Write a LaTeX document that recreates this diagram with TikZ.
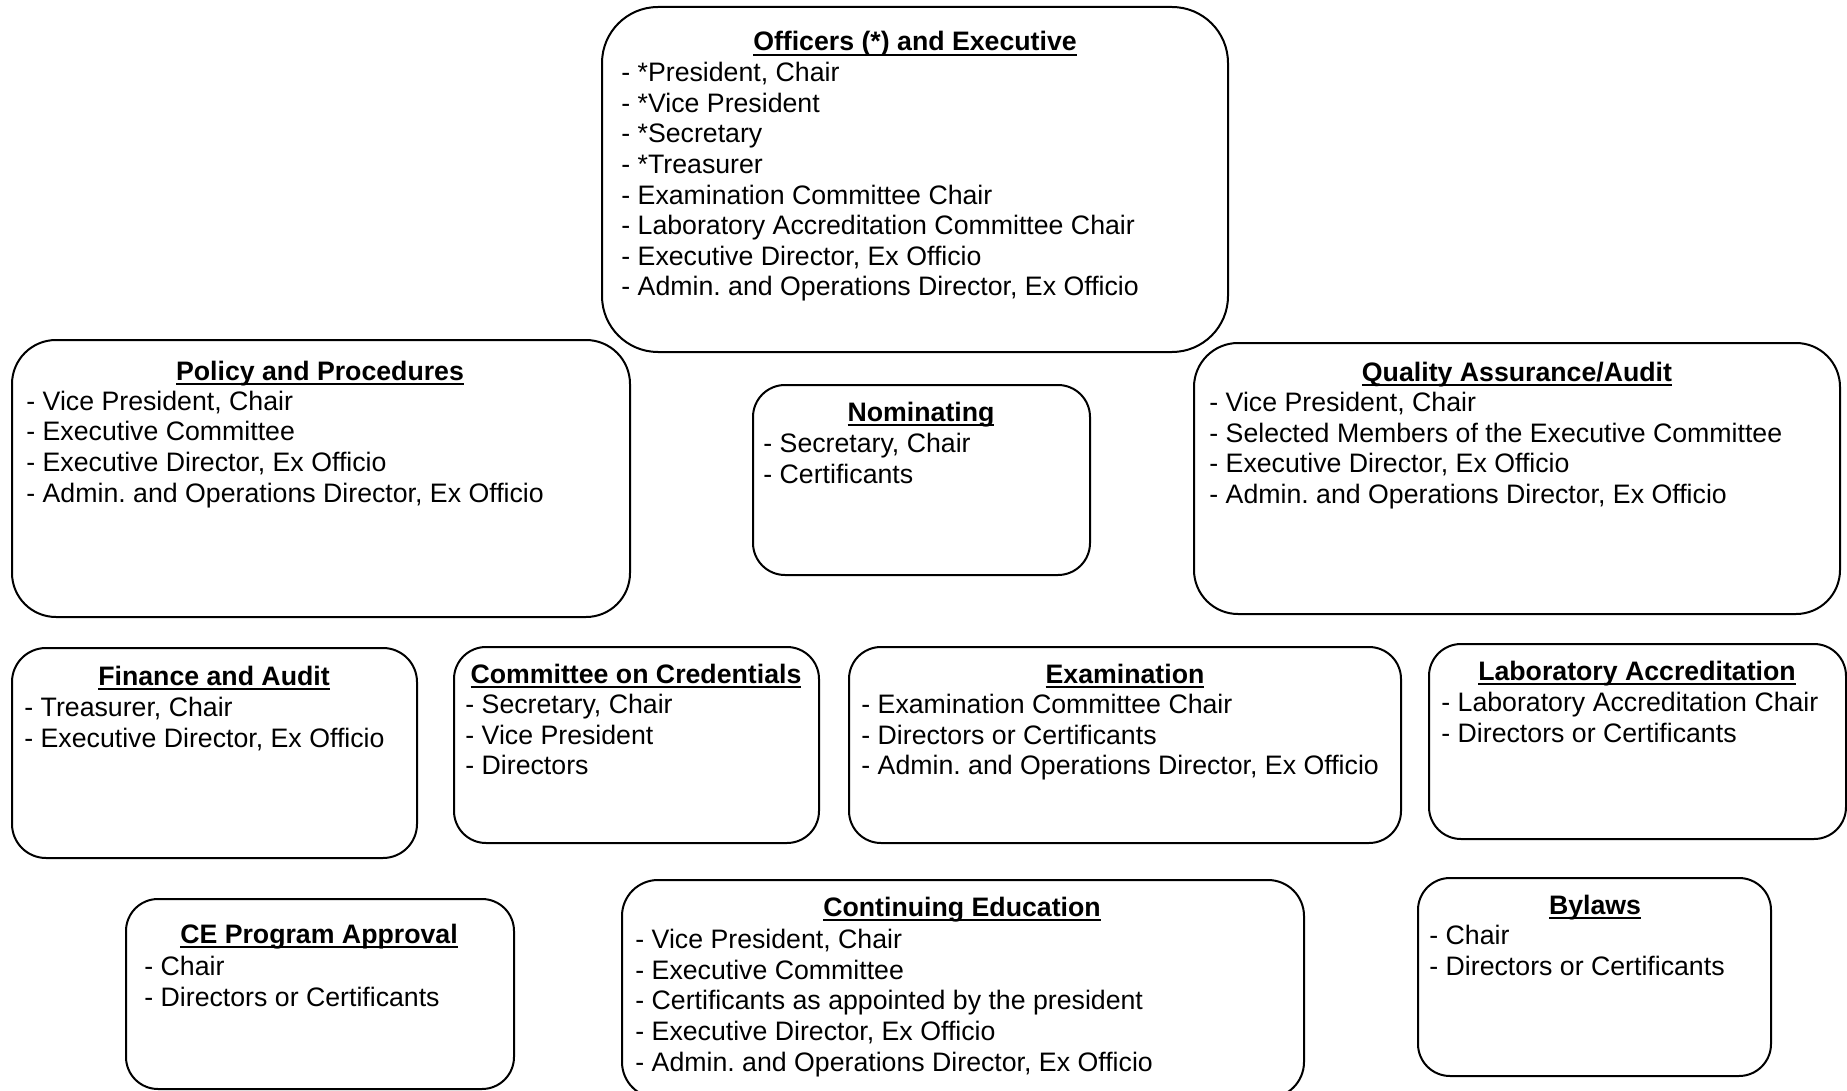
\documentclass[tikz,border=0pt]{standalone}
\usepackage{fontspec}
\setmainfont{Liberation Sans}
\usepackage{tikz}
\frenchspacing
\newsavebox{\ulbox}
\newcommand{\ulbf}[1]{\sbox{\ulbox}{#1}\rlap{\rule[-2.4pt]{\wd\ulbox}{1.1pt}}\usebox{\ulbox}}
\tikzstyle{bx}=[rectangle,draw=black,line width=1pt,inner sep=0pt]
\tikzstyle{ttl}=[inner sep=0pt,anchor=base,font=\fontsize{13.35}{15.3}\selectfont\bfseries]
\tikzstyle{lst}=[inner sep=0pt,anchor=north west,align=left,font=\fontsize{13.35}{15.3}\selectfont]

\begin{document}
\begin{tikzpicture}[x=0.5pt,y=-0.5pt]
\clip (0,0) rectangle (1847,1091);
% top row
\node[bx,minimum width=313pt,minimum height=172.5pt,rounded corners=28pt] (offc) at (915,179.5) {};
\node[ttl] (offc-ttl) at (915,51) {\ulbf{Officers (*) and Executive}};
\node[lst] (offc-lst) at (621,62) {- *President, Chair\\- *Vice President\\- *Secretary\\- *Treasurer\\- Examination Committee Chair\\- Laboratory Accreditation Committee Chair\\- Executive Director, Ex Officio\\- Admin. and Operations Director, Ex Officio};
% second row
\node[bx,minimum width=309pt,minimum height=138.5pt,rounded corners=22pt] (pol) at (321,478.5) {};
\node[ttl] (pol-ttl) at (320,380) {\ulbf{Policy and Procedures}};
\node[lst] (pol-lst) at (26,390.5) {- Vice President, Chair\\- Executive Committee\\- Executive Director, Ex Officio\\- Admin. and Operations Director, Ex Officio};
\node[bx,minimum width=168.5pt,minimum height=95pt,rounded corners=16pt] (nom) at (921.5,480) {};
\node[ttl] (nom-ttl) at (921,421) {\ulbf{Nominating}};
\node[lst] (nom-lst) at (763,433) {- Secretary, Chair\\- Certificants};
\node[bx,minimum width=323pt,minimum height=135.5pt,rounded corners=22pt] (qa) at (1517,478.5) {};
\node[ttl] (qa-ttl) at (1517,381) {\ulbf{Quality Assurance/Audit}};
\node[lst] (qa-lst) at (1209,392) {- Vice President, Chair\\- Selected Members of the Executive Committee\\- Executive Director, Ex Officio\\- Admin. and Operations Director, Ex Officio};
% third row
\node[bx,minimum width=202.5pt,minimum height=105pt,rounded corners=17pt] (fin) at (214.5,753) {};
\node[ttl] (fin-ttl) at (214,685) {\ulbf{Finance and Audit}};
\node[lst] (fin-lst) at (24,697) {- Treasurer, Chair\\- Executive Director, Ex Officio};
\node[bx,minimum width=182.5pt,minimum height=98pt,rounded corners=16pt] (cred) at (636.5,745) {};
\node[ttl] (cred-ttl) at (636,683) {\ulbf{Committee on Credentials}};
\node[lst] (cred-lst) at (465,694) {- Secretary, Chair\\- Vice President\\- Directors};
\node[bx,minimum width=276pt,minimum height=98pt,rounded corners=16pt] (exam) at (1125,745) {};
\node[ttl] (exam-ttl) at (1125,683) {\ulbf{Examination}};
\node[lst] (exam-lst) at (861,694) {- Examination Committee Chair\\- Directors or Certificants\\- Admin. and Operations Director, Ex Officio};
\node[bx,minimum width=208.5pt,minimum height=97.5pt,rounded corners=16pt] (lab) at (1637.5,741.5) {};
\node[ttl] (lab-ttl) at (1637,680) {\ulbf{Laboratory Accreditation}};
\node[lst] (lab-lst) at (1441,692) {- Laboratory Accreditation Chair\\- Directors or Certificants};
% bottom row
\node[bx,minimum width=194pt,minimum height=95pt,rounded corners=16pt] (cep) at (320,994) {};
\node[ttl] (cep-ttl) at (319,943) {\ulbf{CE Program Approval}};
\node[lst] (cep-lst) at (144,956) {- Chair\\- Directors or Certificants};
\node[bx,minimum width=341pt,minimum height=109pt,rounded corners=18pt] (cont) at (963,989) {};
\node[ttl] (cont-ttl) at (962,916) {\ulbf{Continuing Education}};
\node[lst] (cont-lst) at (635,929) {- Vice President, Chair\\- Executive Committee\\- Certificants as appointed by the president\\- Executive Director, Ex Officio\\- Admin. and Operations Director, Ex Officio};
\node[bx,minimum width=176.5pt,minimum height=99pt,rounded corners=16pt] (byl) at (1594.5,977) {};
\node[ttl] (byl-ttl) at (1595,914) {\ulbf{Bylaws}};
\node[lst] (byl-lst) at (1429,925) {- Chair\\- Directors or Certificants};
\end{tikzpicture}
\end{document}
